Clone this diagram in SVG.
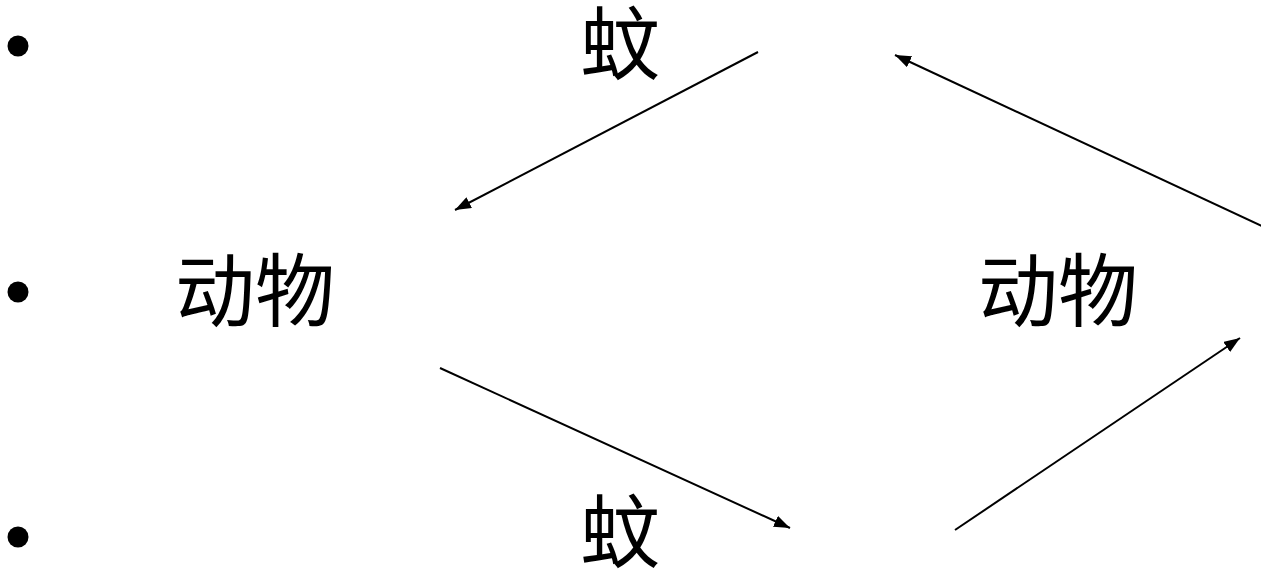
<svg xmlns="http://www.w3.org/2000/svg" width="1261" height="578" viewBox="0 0 1261 578">
<style>
.t{font-family:"Noto Sans CJK SC","Noto Sans CJK JP",sans-serif;font-size:80px;fill:#000}
.c{stroke:#000;stroke-width:2;fill:none}
</style>
<defs>
<marker id="a" viewBox="0 0 16 12" refX="16" refY="6" markerWidth="8" markerHeight="6" markerUnits="strokeWidth" orient="auto"><path d="M0,0L16,6L0,12z" fill="#000"/></marker>
</defs>
<rect width="1261" height="578" fill="#fff"/>
<g id="bullets">
<circle cx="18" cy="46" r="10.5"/>
<circle cx="18" cy="292" r="10.5"/>
<circle cx="18" cy="537" r="10.5"/>
</g>
<g id="n1"><text class="t" x="580" y="73">蚊</text></g>
<g id="n2"><text class="t" x="175" y="320">动物</text></g>
<g id="n3"><text class="t" x="978" y="320">动物</text></g>
<g id="n4"><text class="t" x="580" y="561">蚊</text></g>
<g id="connectors">
<line class="c" x1="758" y1="52" x2="455" y2="210" marker-end="url(#a)"/>
<line class="c" x1="1262" y1="226" x2="895" y2="55" marker-end="url(#a)"/>
<line class="c" x1="440" y1="368" x2="790" y2="528" marker-end="url(#a)"/>
<line class="c" x1="955" y1="530" x2="1240" y2="338" marker-end="url(#a)"/>
</g>
</svg>
